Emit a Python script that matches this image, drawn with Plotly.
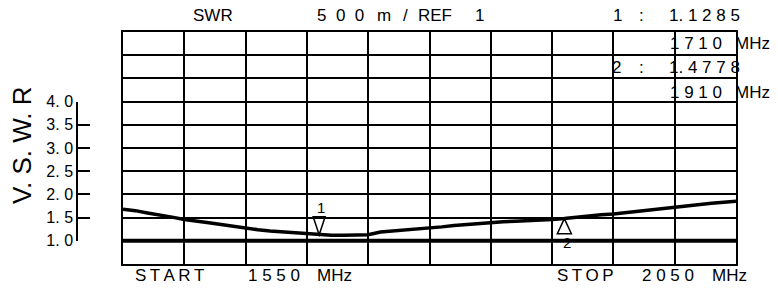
import plotly.graph_objects as go

# ---------------- data ----------------
freq_mhz = [1550, 1560, 1570, 1580, 1590, 1600, 1610, 1620, 1630, 1640,
            1650, 1660, 1670, 1680, 1690, 1700, 1710, 1720, 1730, 1740,
            1750, 1760, 1770, 1780, 1790, 1800, 1810, 1820, 1830, 1840,
            1850, 1860, 1870, 1880, 1890, 1900, 1910, 1920, 1930, 1940,
            1950, 1960, 1970, 1980, 1990, 2000, 2010, 2020, 2030, 2040, 2050]
vswr = [1.68, 1.65, 1.60, 1.56, 1.51, 1.46, 1.43, 1.39, 1.35, 1.31,
        1.27, 1.24, 1.21, 1.19, 1.17, 1.15, 1.13, 1.12, 1.12, 1.12,
        1.13, 1.19, 1.21, 1.23, 1.25, 1.27, 1.30, 1.33, 1.35, 1.38,
        1.40, 1.41, 1.42, 1.43, 1.44, 1.46, 1.48, 1.51, 1.53, 1.56,
        1.58, 1.61, 1.64, 1.66, 1.69, 1.72, 1.75, 1.78, 1.81, 1.83, 1.85]
ref_value = 1.0
start_mhz, stop_mhz = 1550, 2050
marker_freqs = [1710, 1910]
marker_vals = [1.1285, 1.4778]
left_tick_vals = [1.0, 1.5, 2.0, 2.5, 3.0, 3.5, 4.0]
left_tick_text = ["1. 0", "1. 5", "2. 0", "2. 5", "3. 0", "3. 5", "4. 0"]

# ---------------- layout helpers ----------------
W, H = 778, 288
ML, MR, MT, MB = 77, 42, 32, 24
PW, PH = W - ML - MR, H - MT - MB
GRID_LEFT = 123
TS = "\u2009"  # thin space for letter spacing


def px(xp):
    return (xp - ML) / PW


def py(yp):
    return (H - MB - yp) / PH


FONT = "Liberation Sans, Arial, sans-serif"
BLACK = "#000000"

fig = go.Figure()

fig.add_trace(go.Scatter(x=[start_mhz, stop_mhz], y=[ref_value, ref_value],
                         mode="lines", line=dict(color=BLACK, width=4),
                         hoverinfo="skip", showlegend=False))
fig.add_trace(go.Scatter(x=freq_mhz, y=vswr, mode="lines",
                         line=dict(color=BLACK, width=3.5),
                         hoverinfo="skip", showlegend=False))
# dummy trace to activate the left scale axis
fig.add_trace(go.Scatter(x=[start_mhz], y=[ref_value], xaxis="x", yaxis="y2",
                         mode="markers", marker=dict(opacity=0),
                         hoverinfo="skip", showlegend=False))

shapes = []
# marker 1: downward open triangle, tip on trace
shapes.append(dict(type="path", xref="x", yref="y", xsizemode="pixel", ysizemode="pixel",
                   xanchor=marker_freqs[0], yanchor=marker_vals[0],
                   path="M -6,18 L 6,18 L 0,0 Z", line=dict(color=BLACK, width=1.5)))
# marker 2: upward open triangle, tip on trace
shapes.append(dict(type="path", xref="x", yref="y", xsizemode="pixel", ysizemode="pixel",
                   xanchor=marker_freqs[1], yanchor=marker_vals[1],
                   path="M -7,-15 L 7,-15 L 0,0 Z", line=dict(color=BLACK, width=1.5)))
# reference level pointer at right edge
shapes.append(dict(type="path", xref="x", yref="y", xsizemode="pixel", ysizemode="pixel",
                   xanchor=stop_mhz, yanchor=ref_value,
                   path="M 0,0 L 7,4 L 7,-4 Z", line=dict(color=BLACK, width=1.2)))

annotations = []


def txt(s, xl, yc, size=17):
    annotations.append(dict(text=s, xref="paper", yref="paper", x=px(xl), y=py(yc),
                            xanchor="left", yanchor="middle", showarrow=False,
                            font=dict(family=FONT, size=size, color=BLACK)))


# top row
txt("SWR", 191, 15)
txt("5  0  0", 315, 15)
txt("m", 375, 15)
txt("/", 401, 15)
txt("REF", 416, 15)
txt("1", 473, 15)
txt("1", 611, 15)
txt(":", 637, 15)
txt("1. 1 2 8 5", 667, 15)
# marker readouts inside grid
txt("1 7 1 0", 668, 43)
txt("MHz", 733, 43)
txt("2", 610, 67)
txt(":", 637, 67)
txt("1. 4 7 7 8", 667, 67)
txt("1 9 1 0", 668, 92)
txt("MHz", 733, 92)
# bottom row
txt(TS.join("START"), 133, 275)
txt("1 5 5 0", 246, 275)
txt("MHz", 315, 275)
txt(TS.join("STOP"), 555, 275)
txt("2 0 5 0", 640, 275)
txt("MHz", 710, 275)

# y title
annotations.append(dict(text="V. S. W. R", xref="paper", yref="paper", x=px(22), y=py(145),
                        xanchor="center", yanchor="middle", textangle=-90, showarrow=False,
                        font=dict(family=FONT, size=26, color=BLACK)))

# marker labels
annotations.append(dict(text="1", x=marker_freqs[0], y=marker_vals[0], xref="x", yref="y",
                        yshift=27, xshift=2, showarrow=False,
                        font=dict(family=FONT, size=15, color=BLACK)))
annotations.append(dict(text="2", x=marker_freqs[1], y=marker_vals[1], xref="x", yref="y",
                        yshift=-24, xshift=3, showarrow=False,
                        font=dict(family=FONT, size=15, color=BLACK)))

y_lo, y_hi = 0.5, 5.5
fig.update_layout(
    width=W, height=H,
    margin=dict(l=ML, r=MR, t=MT, b=MB, pad=0),
    paper_bgcolor="white", plot_bgcolor="rgba(0,0,0,0)",
    font=dict(family=FONT, color=BLACK),
    showlegend=False,
    shapes=shapes,
    annotations=annotations,
    xaxis=dict(domain=[px(GRID_LEFT), 1], range=[start_mhz, stop_mhz],
               tick0=start_mhz, dtick=50, showgrid=True, gridcolor=BLACK, gridwidth=1.6,
               showticklabels=False, ticks="", zeroline=False,
               showline=True, mirror=True, linecolor=BLACK, linewidth=2),
    yaxis=dict(range=[y_lo, y_hi], tick0=0.5, dtick=0.5, showgrid=True,
               gridcolor=BLACK, gridwidth=1.6, showticklabels=False, ticks="",
               zeroline=False, showline=True, mirror=True, linecolor=BLACK, linewidth=2),
    yaxis2=dict(domain=[(1.0 - y_lo) / (y_hi - y_lo), (4.0 - y_lo) / (y_hi - y_lo)],
                range=[1.0, 4.0], anchor="free", position=0, side="left",
                tickvals=left_tick_vals, ticktext=left_tick_text,
                ticks="inside", ticklen=12, tickwidth=1.5, tickcolor=BLACK,
                showline=True, linecolor=BLACK, linewidth=1.5,
                showgrid=False, zeroline=False,
                tickfont=dict(family=FONT, size=16, color=BLACK)),
)

fig.write_html("out.html", config={"displayModeBar": False},
               post_script="document.body.style.margin='0';document.body.style.padding='0';")
